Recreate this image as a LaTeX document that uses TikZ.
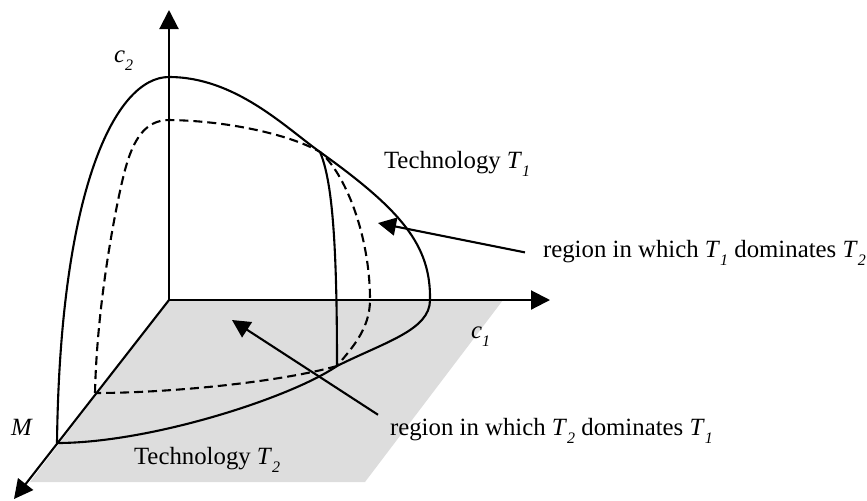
\documentclass[tikz,border=0pt]{standalone}
\usepackage{fontspec}
\setmainfont{Liberation Serif}
\usetikzlibrary{arrows.meta}
\definecolor{planegray}{RGB}{221,221,221}
\newcommand{\idx}[2]{\textit{#1}\raisebox{-4pt}{\fontsize{8}{8}\selectfont\textit{#2}}}

\begin{document}
\begin{tikzpicture}[x=0.5pt,y=-0.5pt,line width=1.05pt,
	axis/.style={-{Triangle[length=9.5pt,width=9.5pt]}},
	pointer/.style={-{Triangle[length=9pt,width=9pt]}},
	hidden/.style={dash pattern=on 4.5pt off 2.5pt},
	lbl/.style={anchor=base west,inner sep=0pt,font=\fontsize{12.4}{14}\selectfont}]

		\useasboundingbox (0,0) rectangle (867,500);

		\coordinate (O) at (169,300);
		\coordinate (c2end) at (169,10);
		\coordinate (c1end) at (550,300);
		\coordinate (Mend) at (14,499);

		\fill[planegray] (O) -- (503,300) -- (365,482) -- (30,482) -- cycle;

		\coordinate (top1) at (169,77);
		\coordinate (top2) at (169,120);
		\coordinate (M1) at (57,443);
		\coordinate (M2) at (95,393);
		\coordinate (X1) at (320,152);
		\coordinate (X2) at (337,366);
		\coordinate (foot1) at (430,300);
		\coordinate (foot2) at (370,300);

		\draw (M1) .. controls (60,190) and (115,77) .. (top1)
			.. controls (235,77) and (285,127) .. (X1)
			.. controls (401,210) and (431,245) .. (foot1)
			.. controls (430,330) and (385,342) .. (X2)
			.. controls (290,398) and (150,443) .. (M1);
		\draw[hidden] (M2) .. controls (97,300) and (117,200) .. (125,170)
			.. controls (133,140) and (145,120) .. (top2)
			.. controls (235,121) and (295,137) .. (X1)
			.. controls (345,173) and (370,235) .. (foot2)
			.. controls (370,330) and (350,350) .. (X2);
		\draw[hidden] (X2) .. controls (280,382) and (170,393) .. (M2);
		\draw (X1) .. controls (332,180) and (337,240) .. (X2);

		\draw[axis] (O) -- (c2end);
		\draw[axis] (O) -- (c1end);
		\draw[axis] (O) -- (Mend);

		\node[lbl] (c2lab) at (113,62) {\idx{c}{2}};
		\node[lbl] (c1lab) at (470,338) {\idx{c}{1}};
		\node[lbl] (Mlab) at (10,435) {\textit{M}};
		\node[lbl] (tech1) at (383,168) {Technology \idx{T}{1}};
		\node[lbl] (tech2) at (133,464) {Technology \idx{T}{2}};
		\node[lbl,inner xsep=8.5pt] (regA) at (525,257) {region in which \idx{T}{1} dominates \idx{T}{2}};
		\node[lbl,inner xsep=5.5pt,inner ysep=1pt] (regB) at (378,435) {region in which \idx{T}{2} dominates \idx{T}{1}};

		\coordinate (tipA) at (378,223);
		\coordinate (tipB) at (232,320);
		\draw[pointer] (regA.west) -- (tipA);
		\draw[pointer] (regB.north west) -- (tipB);

\end{tikzpicture}
\end{document}
